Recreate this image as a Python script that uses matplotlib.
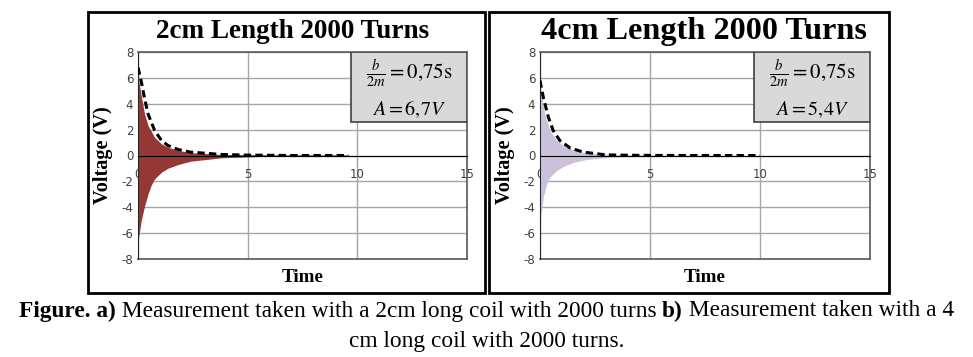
import matplotlib
matplotlib.use("Agg")
import matplotlib.pyplot as plt
from matplotlib.patches import Rectangle

plt.rcParams['mathtext.fontset'] = 'stix'
plt.rcParams['axes.unicode_minus'] = False

# --- data ---
titles = ["2cm Length 2000 Turns", "4cm Length 2000 Turns"]
box_ratio = ["0{,}75", "0{,}75"]
box_amp = ["6{,}7", "5{,}4"]

# panel a) envelope of the measured signal
t_up_a = [0, 0.03, 0.15, 0.3, 0.46, 0.76, 1.07, 1.37, 1.83, 2.4, 3.8, 5.5, 7.5, 9.6]
v_up_a = [6.0, 5.8, 4.6, 3.2, 2.3, 1.4, 0.9, 0.64, 0.39, 0.22, 0.08, 0.06, 0.05, 0.05]
t_lo_a = [0, 0.03, 0.15, 0.3, 0.46, 0.6, 0.76, 1.07, 1.37, 1.83, 2.4, 3.8, 5.5, 7.5, 9.6]
v_lo_a = [-6.3, -6.3, -5.0, -3.9, -2.96, -2.3, -1.8, -1.29, -0.98, -0.7, -0.44, -0.18, -0.08, -0.06, -0.05]
# panel a) fitted envelope (dashed)
t_fit_a = [0, 0.15, 0.3, 0.46, 0.76, 1.07, 1.37, 1.83, 2.4, 3.8, 5.0, 7.0, 9.6]
v_fit_a = [6.8, 5.7, 4.4, 3.2, 1.93, 1.16, 0.77, 0.46, 0.26, 0.08, 0.03, 0.0, 0.0]

# panel b)
t_up_b = [0, 0.08, 0.23, 0.45, 0.76, 1.06, 1.5, 2.1, 3.3, 4.9, 7.0, 10.0]
v_up_b = [5.8, 4.5, 3.1, 1.93, 1.16, 0.77, 0.44, 0.2, 0.08, 0.04, 0.02, 0.01]
t_lo_b = [0, 0.08, 0.15, 0.3, 0.45, 0.76, 1.06, 1.5, 2.1, 3.3, 4.9, 7.0, 10.0]
v_lo_b = [-5.0, -4.2, -3.2, -2.2, -1.67, -1.16, -0.85, -0.54, -0.31, -0.13, -0.05, -0.02, -0.01]
t_fit_b = [0, 0.15, 0.38, 0.6, 0.9, 1.36, 1.97, 3.0, 4.5, 7.0, 10.0]
v_fit_b = [5.8, 4.5, 2.96, 1.93, 1.16, 0.59, 0.26, 0.05, 0.01, 0.0, 0.0]

fill_colors = ['#953735', '#ccc1da']
title_sizes = [19.5, 23.2]
title_x = [293, 704]

W, H = 973, 357
fig = plt.figure(figsize=(W / 100, H / 100), dpi=100)

def fx(px):
    return px / W

def fy(py):
    return 1 - py / H

# outer panel frames
for x0, x1 in [(88, 485), (489, 889)]:
    fig.patches.append(Rectangle((fx(x0), fy(293)), fx(x1 - x0), (293 - 12) / H,
                                 transform=fig.transFigure, fill=False,
                                 edgecolor='black', lw=2))

panels = [
    (138, 467, t_up_a, v_up_a, t_lo_a, v_lo_a, t_fit_a, v_fit_a),
    (540, 870, t_up_b, v_up_b, t_lo_b, v_lo_b, t_fit_b, v_fit_b),
]

for i, (x0, x1, tu, vu, tl, vl, tf, vf) in enumerate(panels):
    ax = fig.add_axes([fx(x0), fy(259), fx(x1 - x0), (259 - 52) / H])
    ax.set_xlim(0, 15)
    ax.set_ylim(-8, 8)

    # fill upper and lower envelope separately
    ax.fill_between(tu, vu, 0, color=fill_colors[i], lw=0, zorder=2)
    ax.fill_between(tl, vl, 0, color=fill_colors[i], lw=0, zorder=2)
    ax.plot(tf, vf, color='black', ls=(0, (2.4, 1.4)), lw=2.2, zorder=4)

    ax.set_yticks(range(-8, 9, 2))
    ax.set_xticks([0, 5, 10, 15])
    ax.grid(True, color='#a6a6a6', lw=1)
    ax.set_axisbelow(True)
    # x axis crosses at zero like in the spreadsheet chart
    ax.spines['bottom'].set_position(('data', 0))
    ax.spines['bottom'].set_color('black')
    ax.spines['bottom'].set_zorder(3)
    ax.axhline(-8, color='#595959', lw=1.2, clip_on=False)
    for s in ['top', 'right']:
        ax.spines[s].set_color('#595959')
        ax.spines[s].set_linewidth(1.2)
    ax.spines['left'].set_color('#262626')
    ax.tick_params(length=0, labelsize=8.5, labelcolor='#404040', pad=3.5)
    ax.tick_params(axis='x', pad=9)

    # parameter box
    ax.add_patch(Rectangle((0.648, 0.662), 0.352, 0.338, transform=ax.transAxes,
                           facecolor='#d9d9d9', edgecolor='#404040', lw=1.2, zorder=5))
    cx = 0.824
    ax.text(cx, 0.895, r'$\frac{b}{2m} = %s\mathrm{s}$' % box_ratio[i], transform=ax.transAxes,
            ha='center', va='center', fontsize=15, zorder=6)
    ax.text(cx, 0.722, r'$A = %s V$' % box_amp[i], transform=ax.transAxes,
            ha='center', va='center', fontsize=14.5, zorder=6)

    fig.text(fx(title_x[i]), fy(32), titles[i], ha='center', va='center',
             family='Liberation Serif', weight='bold', fontsize=title_sizes[i])
    fig.text(fx((x0 + x1) / 2), fy(278), 'Time', ha='center', va='center',
             family='Liberation Serif', weight='bold', fontsize=13.8)
    fig.text(fx(x0 - 35), fy(155.5), 'Voltage (V)', ha='center', va='center',
             rotation=90, family='Liberation Serif', weight='bold', fontsize=14.6)

# caption, bold and regular parts laid out one after another
renderer = fig.canvas.get_renderer()
lines = [
    [("Figure. a)", 'bold'), (" Measurement taken with a 2cm long coil with 2000 turns ", 'normal'),
     ("b)", 'bold'), (" Measurement taken with a 4", 'normal')],
    [("cm long coil with 2000 turns.", 'normal')],
]
for row, parts in zip([311, 342], lines):
    items = []
    for txt, wgt in parts:
        t = fig.text(0, fy(row), txt, family='Liberation Serif', weight=wgt,
                     fontsize=16.8, va='center', ha='left')
        items.append(t)
    widths = [t.get_window_extent(renderer).width for t in items]
    start = (W - sum(widths)) / 2
    for t, w in zip(items, widths):
        t.set_x(fx(start))
        start += w

fig.savefig('out.png', dpi=100)
